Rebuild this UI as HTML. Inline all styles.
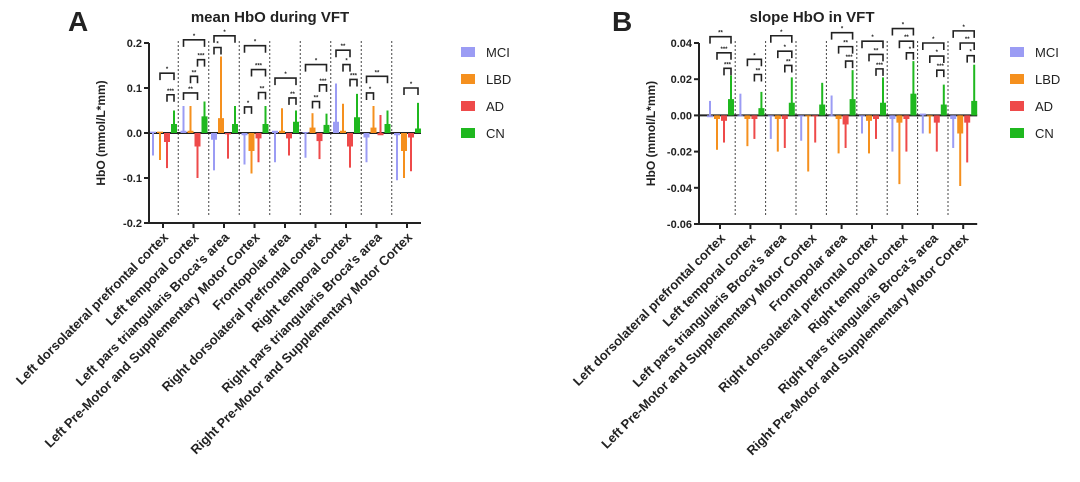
<!DOCTYPE html>
<html><head><meta charset="utf-8"><style>
body{margin:0;background:#fff;width:1080px;height:477px;overflow:hidden}
svg text{font-family:"Liberation Sans",Arial,sans-serif;font-weight:bold;fill:#222}
</style></head><body>
<svg id="chart" width="1080" height="477" viewBox="0 0 1080 477"></svg>
<script>
const categories=["Left dorsolateral prefrontal cortex","Left temporal cortex","Left pars triangularis Broca's area","Left Pre-Motor and Supplementary Motor Cortex","Frontopolar area","Right dorsolateral prefrontal cortex","Right temporal cortex","Right pars triangularis Broca's area","Right Pre-Motor and Supplementary Motor Cortex"];
const groups=["MCI","LBD","AD","CN"];
const colors=["#9b9cf4","#f5901e","#ee4a4a","#1fb81f"];
// Panel A: mean values and error-bar ends
const aMCI=[0.003,0.005,-0.015,-0.005,0.005,0.002,0.025,-0.01,-0.005];
const aMCIerr=[-0.05,0.06,-0.083,-0.07,-0.065,-0.055,0.11,-0.065,-0.105];
const aLBD=[0.003,0.005,0.033,-0.04,0.005,0.012,0.005,0.012,-0.04];
const aLBDerr=[-0.06,0.06,0.17,-0.09,0.055,0.044,0.065,0.06,-0.1];
const aAD=[-0.02,-0.03,-0.003,-0.012,-0.012,-0.018,-0.03,-0.005,-0.01];
const aADerr=[-0.078,-0.1,-0.057,-0.065,-0.05,-0.058,-0.077,0.04,-0.085];
const aCN=[0.02,0.037,0.02,0.02,0.025,0.018,0.035,0.02,0.01];
const aCNerr=[0.05,0.07,0.06,0.06,0.05,0.043,0.087,0.05,0.067];
const aTicks=[0.2,0.1,0.0,-0.1,-0.2];
const aTickLabels=["0.2","0.1","0.0","-0.1","-0.2"];
// brackets: [category, fromGroup, toGroup, y, label]
const aBrackets=[[0,1,3,0.133,"*"],[0,2,3,0.085,"***"],[1,0,3,0.207,"*"],[1,2,3,0.163,"***"],[1,1,2,0.126,"**"],[1,0,2,0.089,"**"],[2,0,3,0.216,"*"],[2,0,1,0.19,"*"],[3,0,3,0.194,"*"],[3,1,3,0.141,"***"],[3,2,3,0.09,"**"],[3,0,1,0.058,"*"],[4,0,3,0.122,"*"],[4,2,3,0.078,"**"],[5,0,3,0.152,"*"],[5,2,3,0.107,"***"],[5,1,2,0.07,"**"],[6,0,2,0.184,"**"],[6,1,2,0.152,"*"],[6,2,3,0.119,"***"],[7,0,3,0.126,"**"],[7,0,1,0.089,"*"],[8,1,3,0.1,"*"]];
// Panel B
const bMCI=[-0.001,0,0,0,0,0,-0.002,0.001,-0.002];
const bMCIerr=[0.008,0.012,-0.013,-0.014,0.011,-0.01,-0.02,-0.01,-0.018];
const bLBD=[-0.002,-0.002,-0.002,0,-0.002,-0.003,-0.004,0,-0.01];
const bLBDerr=[-0.019,-0.017,-0.02,-0.031,-0.021,-0.021,-0.038,-0.01,-0.039];
const bAD=[-0.003,-0.002,-0.002,0,-0.005,-0.002,-0.002,-0.004,-0.004];
const bADerr=[-0.015,-0.013,-0.018,-0.015,-0.018,-0.013,-0.02,-0.02,-0.026];
const bCN=[0.009,0.004,0.007,0.006,0.009,0.007,0.012,0.006,0.008];
const bCNerr=[0.022,0.013,0.021,0.018,0.025,0.021,0.03,0.017,0.028];
const bTicks=[0.04,0.02,0.0,-0.02,-0.04,-0.06];
const bTickLabels=["0.04","0.02","0.00","-0.02","-0.04","-0.06"];
const bBrackets=[[0,0,3,0.0435,"**"],[0,1,3,0.0346,"***"],[0,2,3,0.026,"***"],[1,1,3,0.031,"*"],[1,2,3,0.0226,"**"],[2,0,3,0.044,"*"],[2,1,3,0.0355,"*"],[2,2,3,0.0276,"**"],[4,0,3,0.0457,"*"],[4,1,3,0.038,"**"],[4,2,3,0.03,"***"],[5,0,3,0.041,"*"],[5,1,3,0.0337,"**"],[5,2,3,0.0257,"***"],[6,0,3,0.048,"*"],[6,1,3,0.041,"**"],[6,2,3,0.0346,"*"],[7,0,3,0.04,"*"],[7,1,3,0.0328,"*"],[7,2,3,0.025,"***"],[8,0,3,0.0467,"*"],[8,1,3,0.04,"**"],[8,2,3,0.033,"*"]];

const NS="http://www.w3.org/2000/svg";
const svg=document.getElementById('chart');
function mk(tag,attrs,parent,text){const e=document.createElementNS(NS,tag);for(const k in attrs)e.setAttribute(k,attrs[k]);if(text!==undefined)e.textContent=text;(parent||svg).appendChild(e);return e;}

function panel(cfg){
  const g=mk('g',{});
  
  
  const y=v=>cfg.y0+(cfg.vmax-v)/(cfg.vmax-cfg.vmin)*(cfg.y1-cfg.y0);
  const x=i=>cfg.x0+i*cfg.step;
  const off=[-10,-3,4,11];
  const letter=mk('text',{x:cfg.lx,y:31,'font-size':28},g,cfg.letter);
  
  
  const t=mk('text',{x:cfg.tx,y:22,'font-size':15,'text-anchor':'middle'},g,cfg.title);
  
  
  const yt=mk('text',{x:0,y:0,'font-size':12,'text-anchor':'middle',transform:`translate(${cfg.ax-44},${(y(cfg.vmax)+y(cfg.vmin))/2}) rotate(-90)`},g,'HbO (mmol/L*mm)');
  
  
  for(let i=0;i<categories.length-1;i++){
    const sx=(x(i)+x(i+1))/2;
    const s=mk('line',{x1:sx,x2:sx,y1:y(cfg.vmax)-2,y2:y(cfg.vmin)-8,stroke:'#444','stroke-width':1,'stroke-dasharray':'2,2'},g);
    
    
  }
  const ya=mk('line',{x1:cfg.ax,x2:cfg.ax,y1:y(cfg.vmax),y2:y(cfg.vmin),stroke:'#222','stroke-width':2},g);
  
  
  cfg.ticks.forEach((v,i)=>{
    mk('line',{x1:cfg.ax-5,x2:cfg.ax,y1:y(v),y2:y(v),stroke:'#222','stroke-width':2},g);
    const tl=mk('text',{x:cfg.ax-7,y:y(v)+4,'font-size':11,'text-anchor':'end'},g,cfg.tickLabels[i]);
    
    
  });
  const xb=mk('line',{x1:cfg.ax,x2:x(8)+14,y1:y(cfg.vmin),y2:y(cfg.vmin),stroke:'#222','stroke-width':2},g);
  
  
  const z=mk('line',{x1:cfg.ax,x2:x(8)+14,y1:y(0),y2:y(0),stroke:'#222','stroke-width':2},g);
  
  
  categories.forEach((c,i)=>{
    mk('line',{x1:x(i),x2:x(i),y1:y(cfg.vmin),y2:y(cfg.vmin)+5,stroke:'#222','stroke-width':2},g);
    const l=mk('text',{x:0,y:0,'font-size':13,'text-anchor':'end',transform:`translate(${x(i)+6},${y(cfg.vmin)+15}) rotate(-45)`},g,c);
    
    
  });
  cfg.means.forEach((arr,gi)=>{
    arr.forEach((m,i)=>{
      const bx=x(i)+off[gi];
      const e=cfg.errs[gi][i];
      const el=mk('line',{x1:bx,x2:bx,y1:y(0),y2:y(e),stroke:colors[gi],'stroke-width':2},g);
      
      
      const r=mk('rect',{x:bx-3,y:Math.min(y(0),y(m)),width:6,height:Math.max(1,Math.abs(y(m)-y(0))),fill:colors[gi]},g);
      
      
    });
  });
  cfg.brackets.forEach(b=>{
    const x1=x(b[0])+off[b[1]],x2=x(b[0])+off[b[2]],by=y(b[3]);
    const p=mk('path',{d:`M${x1},${by+7}V${by}H${x2}V${by+7}`,fill:'none',stroke:'#222','stroke-width':1.6},g);
    
    
    const st=mk('text',{x:(x1+x2)/2,y:by-2,'font-size':6,'text-anchor':'middle'},g,b[4]);
    
    
  });
  groups.forEach((gn,i)=>{
    const ly=52+i*27;
    const sw=mk('rect',{x:cfg.legx,y:ly-5,width:14,height:10,fill:colors[i]},g);
    
    
    const lt=mk('text',{x:cfg.legx+25,y:ly+5,'font-size':13,style:'font-weight:normal'},g,gn);
    
    
  });
}
panel({name:'panel-a',letter:'A',lx:68,title:'mean HbO during VFT',tx:270,ax:149,x0:163,step:30.5,y0:43,y1:223,vmax:0.2,vmin:-0.2,ticks:aTicks,tickLabels:aTickLabels,
  means:[aMCI,aLBD,aAD,aCN],errs:[aMCIerr,aLBDerr,aADerr,aCNerr],brackets:aBrackets,legx:461});
panel({name:'panel-b',letter:'B',lx:612,title:'slope HbO in VFT',tx:812,ax:699,x0:720,step:30.4,y0:43,y1:224,vmax:0.04,vmin:-0.06,ticks:bTicks,tickLabels:bTickLabels,
  means:[bMCI,bLBD,bAD,bCN],errs:[bMCIerr,bLBDerr,bADerr,bCNerr],brackets:bBrackets,legx:1010});
</script>
</body></html>
